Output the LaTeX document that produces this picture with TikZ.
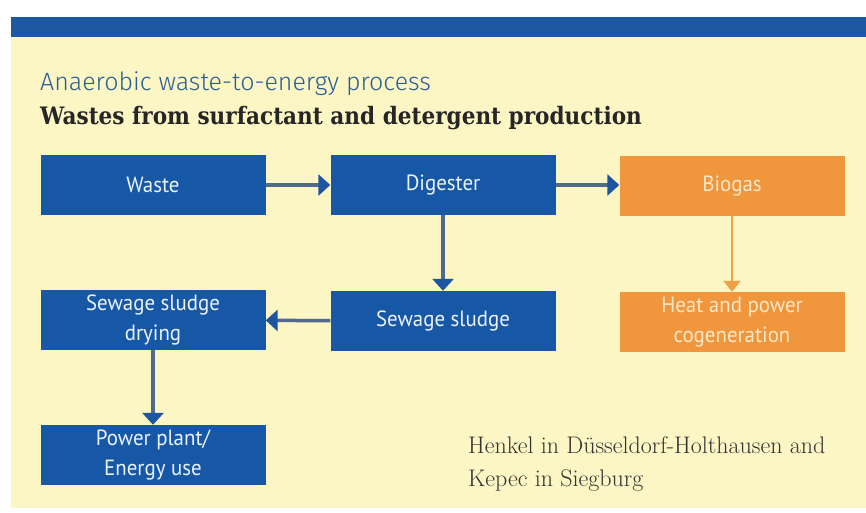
\documentclass[tikz,border=0pt]{standalone}
\usepackage{fontspec}
\usetikzlibrary{arrows.meta}
\newfontfamily\boxfont{PT Sans}[FakeStretch=0.95]
\newfontfamily\headfont{Fira Sans Light}
\newfontfamily\subheadfont{DejaVu Serif}[FakeStretch=0.9]
\definecolor{bandblue}{RGB}{30,88,160}
\definecolor{boxblue}{RGB}{22,88,166}
\definecolor{boxorange}{RGB}{240,150,60}
\definecolor{paper}{RGB}{252,245,196}
\definecolor{headblue}{RGB}{40,95,150}
\definecolor{shaftblue}{RGB}{80,105,140}
\definecolor{arrowblue}{RGB}{30,85,160}
\definecolor{arroworange}{RGB}{240,160,70}
\definecolor{orangetext}{RGB}{252,232,200}
\definecolor{bluetext}{RGB}{235,242,250}

\begin{document}
\begin{tikzpicture}
[x=1pt, y=-1pt,
 stepbox/.style={minimum width=225pt, minimum height=60pt, inner sep=0pt, align=center,
   font=\boxfont\fontsize{22}{30}\selectfont},
 bluebox/.style={stepbox, fill=boxblue, text=bluetext},
 orangebox/.style={stepbox, fill=boxorange, text=orangetext},
 arr/.style={-{Triangle[length=12pt,width=21pt,color=arrowblue]}, line width=3.5pt, draw=shaftblue},
 orangearr/.style={-{Triangle[length=11pt,width=17pt,color=arroworange]}, line width=2.5pt, draw=arroworange}]
\useasboundingbox (0,0) rectangle (866,512);
\fill[white] (0,0) rectangle (866,512);
\fill[paper] (11,36) rectangle (866,508);
\fill[bandblue] (11,17) rectangle (866,37);
% headings
\node[anchor=base west, inner sep=0pt, text=headblue, font=\headfont\fontsize{25}{30}\selectfont] (title) at (40,90) {Anaerobic waste-to-energy process};
\node[anchor=base west, inner sep=0pt, text=black!85, font=\subheadfont\bfseries\fontsize{24}{28}\selectfont] (subtitle) at (40,124) {Wastes from surfactant and detergent production};
% process steps
\node[bluebox] (waste) at (153,185) {Waste};
\node[bluebox] (digester) at (443,185) {Digester};
\node[orangebox] (biogas) at (732,186) {Biogas};
\node[bluebox] (drying) at (153,320) {Sewage sludge\\drying};
\node[bluebox] (sludge) at (443,321) {Sewage sludge};
\node[orangebox] (chp) at (732,322) {Heat and power\\cogeneration};
\node[bluebox] (power) at (153,455) {Power plant/\\Energy use};
% flows
\draw[arr] (waste) -- (digester);
\draw[arr] (digester.east) -- (biogas.west |- digester.east);
\draw[arr] (digester) -- (sludge);
\draw[orangearr] (biogas) -- (chp);
\draw[arr] (sludge) -- (drying);
\draw[arr] (drying) -- (power);
% sites
\node[anchor=base west, inner sep=0pt, align=left, text=black!80, font=\fontsize{24}{33}\selectfont] (sites) at (468,486) {Henkel in D\"usseldorf-Holthausen and\\Kepec in Siegburg};
\end{tikzpicture}
\end{document}
